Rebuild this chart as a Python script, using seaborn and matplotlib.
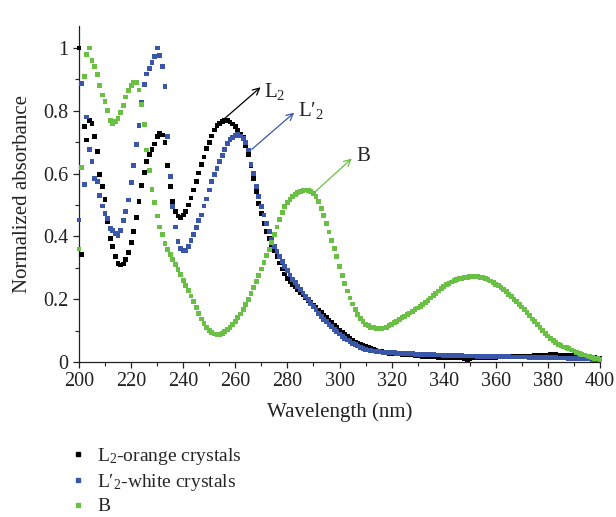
import numpy as np
import pandas as pd
import matplotlib
matplotlib.use("Agg")
import matplotlib.pyplot as plt
import seaborn as sns
from matplotlib.lines import Line2D
from matplotlib.ticker import MultipleLocator, FixedLocator, FixedFormatter

# ---------------- data ----------------
wavelength = list(range(200, 401))

l2_orange = [
    1.0, 0.342, 0.75, 0.707, 0.77, 0.76, 0.718, 0.67, 0.598, 0.558,
    0.518, 0.448, 0.392, 0.368, 0.336, 0.314, 0.309, 0.312, 0.327, 0.348,
    0.381, 0.416, 0.461, 0.511, 0.562, 0.604, 0.639, 0.662, 0.677, 0.694,
    0.718, 0.728, 0.723, 0.70, 0.626, 0.56, 0.511, 0.48, 0.465, 0.46,
    0.468, 0.48, 0.50, 0.522, 0.548, 0.575, 0.602, 0.63, 0.653, 0.68,
    0.70, 0.72, 0.739, 0.752, 0.76, 0.766, 0.768, 0.768, 0.764, 0.758,
    0.75, 0.739, 0.726, 0.714, 0.69, 0.66, 0.625, 0.585, 0.543, 0.505,
    0.473, 0.441, 0.415, 0.394, 0.373, 0.355, 0.336, 0.315, 0.296, 0.28,
    0.266, 0.256, 0.248, 0.24, 0.23, 0.222, 0.214, 0.206, 0.197, 0.189,
    0.181, 0.173, 0.165, 0.157, 0.149, 0.141, 0.133, 0.125, 0.117, 0.109,
    0.101, 0.094, 0.087, 0.08, 0.074, 0.068, 0.063, 0.058, 0.055, 0.052,
    0.049, 0.046, 0.043, 0.04, 0.037, 0.035, 0.033, 0.031, 0.029, 0.028,
    0.027, 0.027, 0.026, 0.026, 0.025, 0.025, 0.024, 0.023, 0.022, 0.021,
    0.02, 0.019, 0.018, 0.018, 0.017, 0.016, 0.016, 0.016, 0.015, 0.015,
    0.015, 0.015, 0.014, 0.014, 0.014, 0.014, 0.013, 0.013, 0.012, 0.008,
    0.012, 0.013, 0.013, 0.014, 0.014, 0.014, 0.014, 0.015, 0.015, 0.015,
    0.015, 0.016, 0.016, 0.016, 0.016, 0.016, 0.017, 0.017, 0.017, 0.017,
    0.018, 0.018, 0.018, 0.019, 0.019, 0.02, 0.02, 0.021, 0.021, 0.022,
    0.022, 0.023, 0.022, 0.023, 0.022, 0.022, 0.022, 0.021, 0.021, 0.02,
    0.02, 0.019, 0.019, 0.018, 0.017, 0.017, 0.016, 0.015, 0.014, 0.013,
    0.012,
]

l2_white = [
    0.452, 0.887, 0.565, 0.78, 0.677, 0.638, 0.584, 0.575, 0.53, 0.497,
    0.473, 0.458, 0.425, 0.419, 0.41, 0.404, 0.419, 0.45, 0.48, 0.516,
    0.572, 0.627, 0.693, 0.752, 0.827, 0.884, 0.917, 0.935, 0.954, 0.974,
    1.0, 0.975, 0.941, 0.878, 0.718, 0.591, 0.496, 0.43, 0.383, 0.362,
    0.355, 0.355, 0.368, 0.387, 0.405, 0.429, 0.451, 0.468, 0.497, 0.519,
    0.548, 0.576, 0.596, 0.617, 0.639, 0.657, 0.678, 0.697, 0.708, 0.716,
    0.722, 0.724, 0.72, 0.712, 0.70, 0.675, 0.63, 0.6, 0.558, 0.527,
    0.496, 0.468, 0.44, 0.415, 0.391, 0.368, 0.353, 0.337, 0.32, 0.305,
    0.291, 0.277, 0.263, 0.252, 0.241, 0.231, 0.22, 0.209, 0.198, 0.187,
    0.176, 0.166, 0.155, 0.145, 0.136, 0.128, 0.12, 0.112, 0.104, 0.096,
    0.089, 0.082, 0.076, 0.07, 0.065, 0.06, 0.055, 0.051, 0.047, 0.044,
    0.041, 0.038, 0.036, 0.035, 0.034, 0.033, 0.032, 0.031, 0.03, 0.03,
    0.029, 0.029, 0.028, 0.028, 0.028, 0.027, 0.027, 0.026, 0.026, 0.025,
    0.025, 0.024, 0.024, 0.024, 0.023, 0.023, 0.023, 0.022, 0.022, 0.022,
    0.021, 0.021, 0.021, 0.021, 0.02, 0.02, 0.02, 0.02, 0.019, 0.019,
    0.019, 0.019, 0.019, 0.018, 0.018, 0.018, 0.018, 0.018, 0.018, 0.017,
    0.017, 0.017, 0.017, 0.017, 0.017, 0.017, 0.016, 0.016, 0.016, 0.016,
    0.016, 0.016, 0.016, 0.015, 0.015, 0.015, 0.015, 0.015, 0.015, 0.014,
    0.014, 0.014, 0.014, 0.014, 0.013, 0.013, 0.013, 0.013, 0.012, 0.012,
    0.012, 0.011, 0.011, 0.011, 0.01, 0.01, 0.01, 0.009, 0.009, 0.008,
    0.008,
]

b_series = [
    0.36, 0.62, 0.91, 0.98, 1.00, 0.96, 0.94, 0.915, 0.88, 0.85,
    0.83, 0.80, 0.77, 0.76, 0.767, 0.776, 0.795, 0.818, 0.844, 0.865,
    0.88, 0.89, 0.89, 0.866, 0.82, 0.757, 0.675, 0.61, 0.55, 0.508,
    0.465, 0.43, 0.406, 0.378, 0.359, 0.343, 0.327, 0.311, 0.295, 0.278,
    0.26, 0.244, 0.228, 0.21, 0.192, 0.173, 0.155, 0.137, 0.122, 0.11,
    0.101, 0.094, 0.089, 0.087, 0.087, 0.09, 0.096, 0.103, 0.11, 0.12,
    0.13, 0.141, 0.153, 0.166, 0.182, 0.20, 0.219, 0.238, 0.257, 0.276,
    0.296, 0.318, 0.338, 0.358, 0.38, 0.405, 0.43, 0.455, 0.477, 0.495,
    0.508, 0.518, 0.527, 0.534, 0.54, 0.544, 0.547, 0.548, 0.546, 0.542,
    0.536, 0.526, 0.51, 0.49, 0.467, 0.44, 0.414, 0.388, 0.362, 0.335,
    0.305, 0.276, 0.25, 0.226, 0.204, 0.185, 0.167, 0.152, 0.139, 0.128,
    0.12, 0.115, 0.111, 0.109, 0.107, 0.106, 0.106, 0.108, 0.111, 0.115,
    0.12, 0.125, 0.13, 0.136, 0.141, 0.146, 0.151, 0.156, 0.161, 0.167,
    0.172, 0.178, 0.184, 0.19, 0.197, 0.204, 0.211, 0.218, 0.226, 0.233,
    0.24, 0.246, 0.251, 0.255, 0.259, 0.262, 0.265, 0.267, 0.269, 0.27,
    0.271, 0.272, 0.272, 0.271, 0.27, 0.268, 0.265, 0.262, 0.258, 0.253,
    0.248, 0.243, 0.237, 0.23, 0.224, 0.216, 0.209, 0.2, 0.192, 0.184,
    0.175, 0.166, 0.157, 0.147, 0.137, 0.128, 0.119, 0.11, 0.101, 0.092,
    0.083, 0.076, 0.069, 0.063, 0.057, 0.052, 0.048, 0.045, 0.042, 0.038,
    0.035, 0.031, 0.028, 0.025, 0.022, 0.019, 0.017, 0.015, 0.012, 0.010,
    0.008,
]

series_labels = ["L$_2$-orange crystals", "L\u2032$_2$-white crystals", "B"]
series_colors = ["#000000", "#3a56a8", "#6abf45"]
x_ticks = [200, 220, 240, 260, 280, 300, 320, 340, 360, 380, 400]
y_ticks = [0, 0.2, 0.4, 0.6, 0.8, 1.0]
y_tick_labels = ["0", "0.2", "0.4", "0.6", "0.8", "1"]

# ---------------- style ----------------
sns.set_theme(style="ticks")
plt.rcParams["font.family"] = ["Liberation Serif", "DejaVu Serif"]
plt.rcParams["mathtext.fontset"] = "custom"
plt.rcParams["mathtext.rm"] = "Liberation Serif"
plt.rcParams["mathtext.it"] = "Liberation Serif:italic"
plt.rcParams["mathtext.default"] = "regular"

df = pd.concat(
    [
        pd.DataFrame({"wl": wavelength, "absorb": vals, "series": lab})
        for vals, lab in zip([l2_orange, l2_white, b_series], series_labels)
    ],
    ignore_index=True,
)
palette = dict(zip(series_labels, series_colors))

fig = plt.figure(figsize=(6.16, 5.17), dpi=100)
ax = fig.add_axes([79 / 616, 1 - 362 / 517, (600 - 79) / 616, (362 - 26) / 517])

sns.scatterplot(
    data=df, x="wl", y="absorb", hue="series", hue_order=series_labels,
    palette=palette, marker="s", s=12, linewidth=0, legend=False, ax=ax,
    clip_on=False, zorder=3,
)

ax.set_xlim(200, 400)
ax.set_ylim(0, 1.07)
ax.xaxis.set_major_locator(FixedLocator(x_ticks))
ax.xaxis.set_minor_locator(MultipleLocator(10))
ax.yaxis.set_major_locator(FixedLocator(y_ticks))
ax.yaxis.set_major_formatter(FixedFormatter(y_tick_labels))
ax.yaxis.set_minor_locator(MultipleLocator(0.1))
for sp in ["top", "right"]:
    ax.spines[sp].set_visible(False)
for sp in ["left", "bottom"]:
    ax.spines[sp].set_linewidth(0.9)
    ax.spines[sp].set_color("#222222")
ax.tick_params(which="major", direction="out", length=4.5, width=0.9,
               labelsize=14.5, colors="#222222", pad=3)
ax.tick_params(which="minor", direction="out", length=3, width=0.8, colors="#222222")
ax.tick_params(axis="both", labelcolor="#222222")

ax.set_xlabel("Wavelength (nm)", fontsize=15, labelpad=8, color="#222222")
ax.set_ylabel("Normalized absorbance", fontsize=15, labelpad=8, color="#222222")

# annotations (arrows to curve labels)
ann = [
    ((255.3, 0.771), (269.7, 0.875), (271.2, 0.862), "L$_2$", series_colors[0]),
    ((266.3, 0.677), (282.6, 0.794), (284.2, 0.802), "L\u2032$_2$", series_colors[1]),
    ((290.0, 0.537), (304.7, 0.648), (306.5, 0.655), "B", series_colors[2]),
]
for start, end, tpos, txt, col in ann:
    ax.annotate("", xy=end, xytext=start,
                arrowprops=dict(arrowstyle="->", color=col, lw=0.9,
                                shrinkA=0, shrinkB=0, mutation_scale=12))
    ax.text(tpos[0], tpos[1], txt, fontsize=15, ha="left", va="center", color="#222222")

handles = [Line2D([], [], marker="s", ls="", color=c, markersize=3.5) for c in series_colors]
fig.legend(handles, series_labels, loc="upper left", bbox_to_anchor=(68 / 616, 1 - 446 / 517),
           frameon=False, fontsize=14, handlelength=1.0, handletextpad=0.5,
           labelspacing=0.25, borderpad=0, borderaxespad=0)

fig.savefig("out.png", dpi=100)
